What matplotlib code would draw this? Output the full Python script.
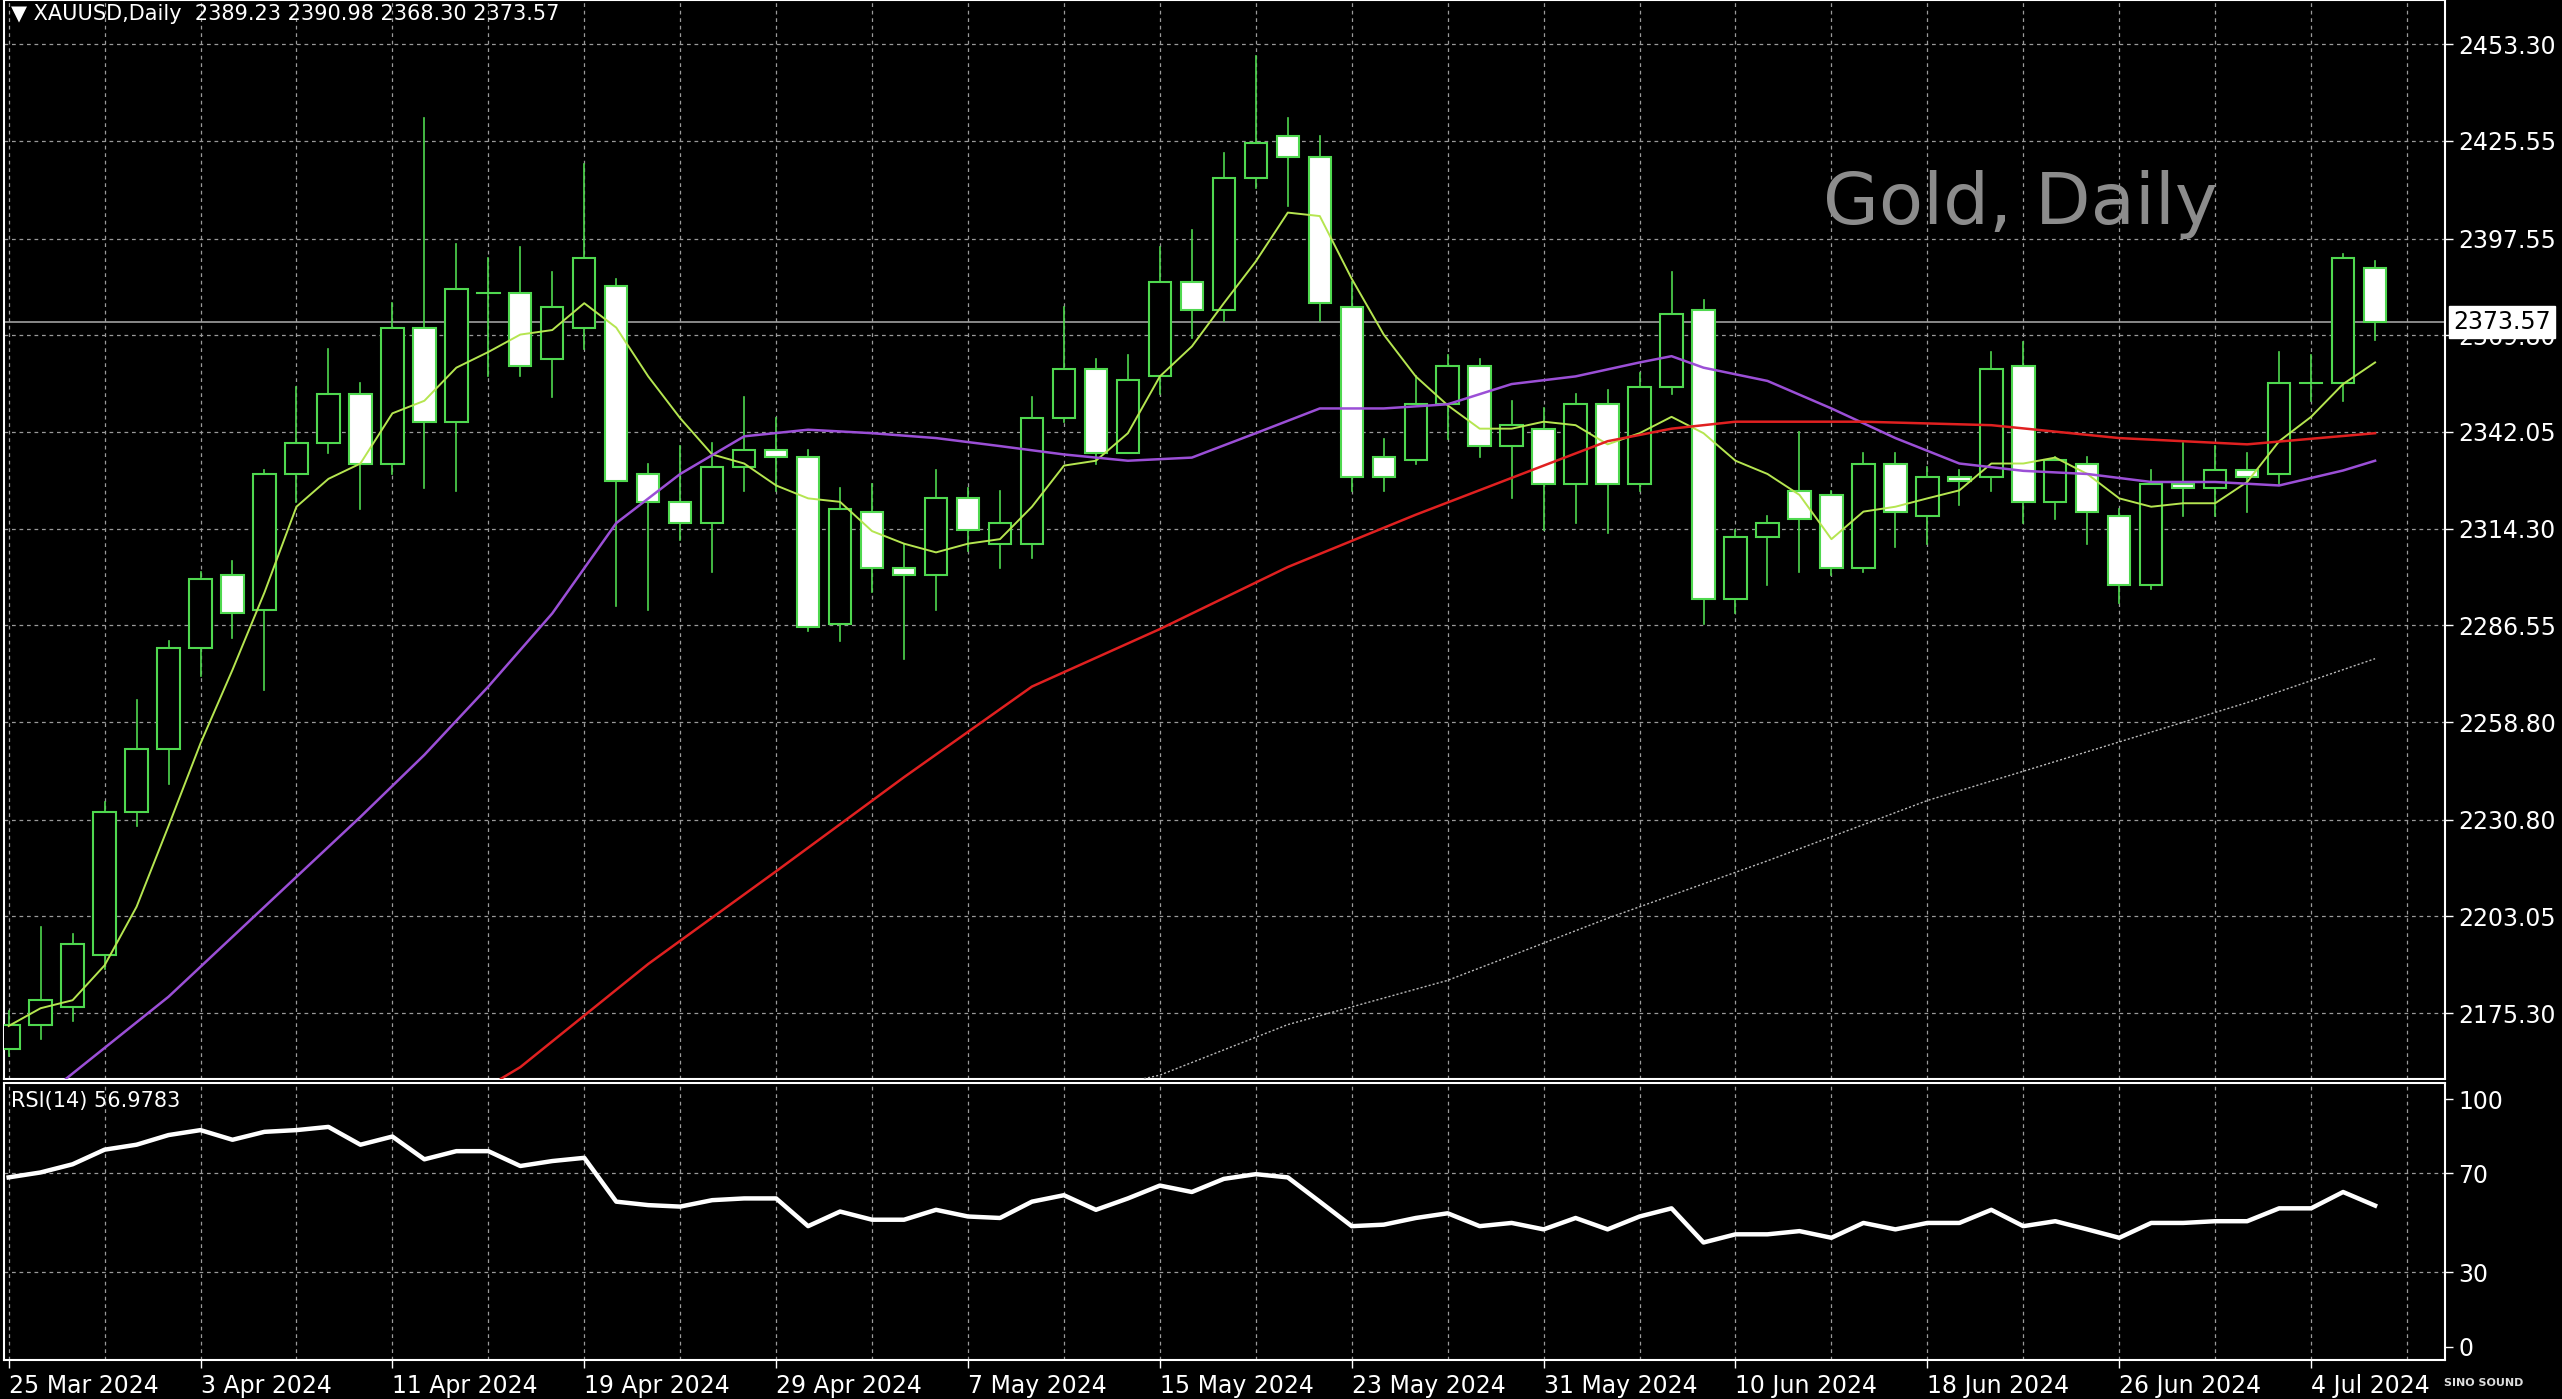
import matplotlib
matplotlib.use("Agg")
import matplotlib.pyplot as plt
from matplotlib.patches import Rectangle

## daily bars, 25 Mar 2024 .. 8 Jul 2024 (75 bars)
opens  = [2165, 2172, 2177, 2192, 2233, 2251, 2280, 2301, 2291, 2330, 2339, 2353, 2333, 2372, 2345,
          2382, 2382, 2363, 2372, 2384, 2330, 2322, 2316, 2332, 2337, 2335, 2287, 2319, 2303, 2301,
          2323, 2310, 2310, 2346, 2360, 2336, 2358, 2385, 2377, 2415, 2427, 2421, 2378, 2335, 2334,
          2350, 2361, 2338, 2343, 2327, 2350, 2327, 2355, 2377, 2294, 2312, 2325, 2324, 2303, 2333,
          2318, 2329, 2329, 2361, 2322, 2333, 2318, 2298, 2327, 2326, 2331, 2330, 2356, 2356, 2389.23]
highs  = [2176, 2200, 2198, 2236, 2265, 2282, 2302, 2305, 2331, 2355, 2366, 2356, 2379, 2432, 2396,
          2392, 2395, 2388, 2419, 2386, 2333, 2338, 2339, 2352, 2346, 2337, 2326, 2327, 2310, 2331,
          2326, 2325, 2352, 2378, 2363, 2364, 2395, 2400, 2422, 2450, 2432, 2427, 2385, 2340, 2358,
          2364, 2363, 2351, 2349, 2353, 2354, 2359, 2388, 2380, 2314, 2318, 2342, 2325, 2336, 2336,
          2332, 2331, 2365, 2368, 2335, 2335, 2320, 2331, 2339, 2338, 2336, 2365, 2364, 2393, 2390.98]
lows   = [2163, 2168, 2173, 2188, 2229, 2241, 2272, 2283, 2268, 2322, 2336, 2320, 2330, 2326, 2325,
          2358, 2358, 2352, 2366, 2292, 2291, 2311, 2302, 2325, 2325, 2285, 2282, 2296, 2277, 2291,
          2308, 2303, 2306, 2345, 2333, 2336, 2353, 2369, 2374, 2412, 2407, 2374, 2325, 2325, 2333,
          2340, 2335, 2323, 2314, 2316, 2313, 2325, 2353, 2287, 2290, 2298, 2302, 2301, 2302, 2309,
          2310, 2321, 2325, 2316, 2317, 2310, 2293, 2297, 2318, 2318, 2319, 2327, 2351, 2351, 2368.30]
closes = [2172, 2179, 2195, 2233, 2251, 2280, 2300, 2290, 2330, 2339, 2353, 2333, 2372, 2345, 2383,
          2382.5, 2361, 2378, 2392, 2328, 2322, 2316, 2332, 2337, 2335, 2286, 2320, 2303, 2301, 2323,
          2314, 2316, 2346, 2360, 2336, 2357, 2385, 2377, 2415, 2425, 2421, 2379, 2329, 2329, 2350,
          2361, 2338, 2344, 2327, 2350, 2327, 2355, 2376, 2294, 2312, 2316, 2317, 2303, 2333, 2319,
          2329, 2328, 2360, 2322, 2334, 2319, 2298, 2327, 2326, 2331, 2329, 2356, 2356.5, 2392, 2373.57]

## fast moving average (yellow-green), one value per bar
ma_fast = [2171.6, 2176.7, 2179, 2189, 2205.8, 2229, 2252.7, 2273.8, 2296, 2320.6, 2328.6, 2333, 2347.4,
           2351, 2360.5, 2365, 2370, 2371.3, 2379, 2372, 2358, 2346, 2335.6, 2333, 2326.7, 2323, 2322,
           2313.6, 2310, 2307.5, 2310, 2311.3, 2320.6, 2332.4, 2333.8, 2341.7, 2358, 2366.6, 2379, 2391,
           2405, 2404, 2386, 2370, 2358, 2349.7, 2343, 2343, 2345, 2344, 2338.5, 2341.7, 2346.4, 2341.7,
           2333.8, 2330, 2324, 2311.3, 2319.2, 2320.6, 2323, 2325.3, 2333, 2333, 2334.7, 2330, 2323,
           2320.6, 2321.6, 2321.6, 2327.7, 2339.4, 2346.4, 2355.8, 2362]

## medium moving average (purple)
ma_mid_x = [1.8, 5, 8, 11, 13, 15, 17, 19, 21, 23, 25, 27, 29, 31, 33, 35, 37, 39, 41, 43, 45, 47,
            49, 51, 52, 53, 55, 57, 59, 61, 63, 65, 67, 69, 71, 73, 74]
ma_mid = [2156.5, 2180, 2205.8, 2231.6, 2249.4, 2269, 2290, 2315.9, 2330, 2340.8, 2342.7, 2341.7,
          2340.3, 2338, 2335.6, 2333.8, 2334.7, 2341.7, 2348.8, 2348.8, 2350, 2355.8, 2358, 2362,
          2363.8, 2360.5, 2356.7, 2348.8, 2340.3, 2333, 2330.9, 2330, 2327.7, 2327.7, 2326.7, 2331, 2333.8]

## slow moving average (red)
ma_slow_x = [15.4, 16, 20, 24, 28, 32, 36, 40, 44, 48, 50, 52, 54, 58, 62, 66, 70, 74]
ma_slow = [2156.5, 2159.8, 2189.4, 2216, 2243, 2269, 2285.5, 2303.3, 2318.3, 2332.4, 2339.4, 2343,
           2345, 2345, 2344, 2340.3, 2338.5, 2341.7]

## long moving average (white dotted)
ma_long_x = [35.5, 36, 40, 45, 50, 55, 60, 65, 70, 74]
ma_long = [2156.5, 2157.5, 2172, 2184.7, 2202.5, 2219, 2236.3, 2250.3, 2264.4, 2277]

## RSI(14)
rsi = [68.4, 70.4, 73.7, 79.6, 81.6, 85.5, 87.5, 83.6, 86.8, 87.5, 88.8, 81.6, 84.9, 75.7, 79, 79, 73,
       75, 76.3, 58.6, 57.2, 56.6, 59.2, 59.9, 59.9, 48.7, 54.6, 51.3, 51.3, 55.3, 52.6, 52, 58.6, 61.2,
       55.3, 59.9, 65.1, 62.5, 67.8, 69.7, 68.4, 58.6, 48.7, 49.3, 52, 53.9, 48.7, 50, 47.4, 52, 47.4,
       52.6, 55.9, 42.1, 45.4, 45.4, 46.7, 44, 50, 47.4, 50, 50, 55.3, 48.7, 50.7, 47.4, 44, 50, 50,
       50.7, 50.7, 55.9, 55.9, 62.5, 57]

price_ticks = [2175.30, 2203.05, 2230.80, 2258.80, 2286.55, 2314.30, 2342.05, 2369.80, 2397.55, 2425.55, 2453.30]
date_idx = [0, 6, 12, 18, 24, 30, 36, 42, 48, 54, 60, 66, 72]
date_labels = ['25 Mar 2024', '3 Apr 2024', '11 Apr 2024', '19 Apr 2024', '29 Apr 2024', '7 May 2024',
               '15 May 2024', '23 May 2024', '31 May 2024', '10 Jun 2024', '18 Jun 2024', '26 Jun 2024',
               '4 Jul 2024']

green = '#4fd84f'
grid_kw = dict(color='#9a9a9a', linestyle=(0, (3, 3)), linewidth=0.9)

fig = plt.figure(figsize=(25.62, 13.99), dpi=100, facecolor='black')
ax = fig.add_axes([0.0015, 0.229, 0.953, 0.771])
ax2 = fig.add_axes([0.0015, 0.028, 0.953, 0.198], sharex=ax)

for a in (ax, ax2):
    a.set_facecolor('black')
    for s in a.spines.values():
        s.set_color('white')
        s.set_linewidth(1.5)
    a.yaxis.tick_right()
    a.tick_params(colors='white', labelsize=17, length=6, width=1)

xmin, xmax = -0.15, 76.2
ax.set_xlim(xmin, xmax)
ax.set_ylim(2156.5, 2466.0)

for xg in range(0, 77, 3):
    ax.axvline(xg, **grid_kw, zorder=0)
    ax2.axvline(xg, **grid_kw, zorder=0)
for p in price_ticks:
    ax.axhline(p, **grid_kw, zorder=0)

## candles
w = 0.7
for i in range(len(opens)):
    o, h, l, c = opens[i], highs[i], lows[i], closes[i]
    ax.plot([i, i], [l, h], color=green, linewidth=1.2, zorder=2)
    lo, hi = min(o, c), max(o, c)
    face = 'black' if c >= o else 'white'
    if hi - lo < 0.6:
        ax.plot([i - w / 2, i + w / 2], [o, o], color=green, linewidth=1.5, zorder=3)
    else:
        ax.add_patch(Rectangle((i - w / 2, lo), w, hi - lo, facecolor=face,
                               edgecolor=green, linewidth=1.5, zorder=3))

ax.plot(range(len(ma_fast)), ma_fast, color='#b5e550', linewidth=1.4, zorder=4)
ax.plot(ma_mid_x, ma_mid, color='#9b4fd6', linewidth=1.8, zorder=4)
ax.plot(ma_slow_x, ma_slow, color='#e02020', linewidth=1.8, zorder=4)
ax.plot(ma_long_x, ma_long, color='#bbbbbb', linewidth=1.0, linestyle=(0, (1.5, 1.5)), zorder=4)

## last price line
last = closes[-1]
ax.axhline(last, color='#a0a0a0', linewidth=1.2, zorder=1)

ax.set_yticks(price_ticks)
ax.set_yticklabels([f'{p:.2f}' for p in price_ticks])
ax.text(1.003, last, f'{last:.2f}', transform=ax.get_yaxis_transform(), color='black', fontsize=17,
        va='center', ha='left', bbox=dict(facecolor='white', edgecolor='white', pad=3), zorder=10,
        clip_on=False)
ax.tick_params(axis='x', bottom=False, labelbottom=False)

ax.text(0.003, 0.996, '\u25BC XAUUSD,Daily  2389.23 2390.98 2368.30 2373.57', transform=ax.transAxes,
        color='white', fontsize=15, va='top', ha='left')
ax.text(0.745, 0.81, 'Gold, Daily', transform=ax.transAxes, color='#8c8c8c', fontsize=52,
        va='center', ha='left')

## RSI panel
ax2.set_ylim(-5.3, 106.6)
ax2.plot(range(len(rsi)), rsi, color='white', linewidth=3.2, zorder=4)
for lv in (30, 70):
    ax2.axhline(lv, **grid_kw, zorder=0)
ax2.set_yticks([0, 30, 70, 100])
ax2.text(0.003, 0.97, 'RSI(14) 56.9783', transform=ax2.transAxes, color='white', fontsize=15,
         va='top', ha='left')
ax2.set_xticks(date_idx)
ax2.set_xticklabels(date_labels, ha='left')
ax2.tick_params(axis='x', pad=4)

fig.text(0.985, 0.008, 'SINO SOUND', color='#dddddd', fontsize=8, ha='right', va='bottom', weight='bold')

plt.savefig('out.png', dpi=100, facecolor='black')
